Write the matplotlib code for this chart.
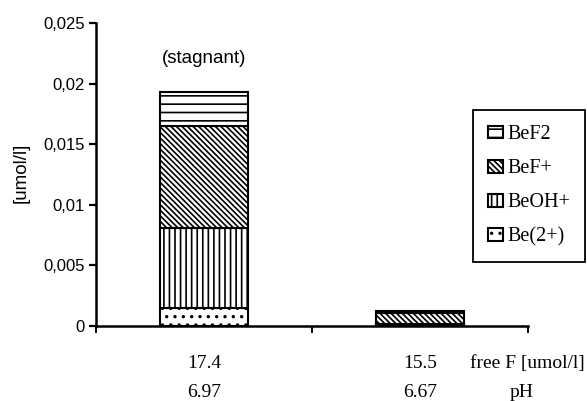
import matplotlib
matplotlib.use("Agg")
import matplotlib.pyplot as plt
import numpy as np

# data (umol/l)
species = ["Be(2+)", "BeOH+", "BeF+", "BeF2"]
be2 = [0.0015, 0.00005]
beoh = [0.0066, 0.0001]
bef = [0.0084, 0.0009]
bef2 = [0.0028, 0.0002]
free_f = ["17.4", "15.5"]
ph = ["6.97", "6.67"]
hatches = ["..", "|||", "\\\\\\\\\\\\", "--"]

plt.rcParams["hatch.linewidth"] = 1.2
serif = "Liberation Serif"
sans = "Liberation Sans"

fig = plt.figure(figsize=(5.87, 4.01), dpi=100)
ax = fig.add_axes([96/587, 1-326/401, 432/587, 303/401])

x = np.array([0.5, 1.5])
bottom = np.zeros(2)
handles = []
for name, vals, h in zip(species, [be2, beoh, bef, bef2], hatches):
    b = ax.bar(x, vals, width=0.41, bottom=bottom, color="white",
               edgecolor="black", linewidth=1.5, hatch=h, label=name)
    handles.append(b)
    bottom = bottom + np.array(vals)

ax.set_xlim(0, 2)
ax.set_ylim(0, 0.025)
ax.spines["top"].set_visible(False)
ax.spines["right"].set_visible(False)
ax.spines["left"].set_linewidth(1.8)
ax.spines["bottom"].set_linewidth(1.8)

yt = [0, 0.005, 0.01, 0.015, 0.02, 0.025]
ax.set_yticks(yt)
ax.set_yticklabels(["0", "0,005", "0,01", "0,015", "0,02", "0,025"],
                   fontfamily=sans, fontsize=12)
ax.tick_params(axis="y", length=5, width=1.6, pad=3)
ax.set_xticks([0, 1, 2])
ax.set_xticklabels([])
ax.tick_params(axis="x", length=5, width=1.4, direction="out")

ax.set_ylabel("[umol/l]", fontfamily=sans, fontsize=13.5)
ax.yaxis.set_label_coords(-0.153, 0.505)

ax.text(0.5, 0.0221, "(stagnant)", ha="center", va="center",
        fontfamily=sans, fontsize=13.5)

for xi, f, p in zip(x, free_f, ph):
    ax.text(xi, -0.00347, f, ha="center", va="baseline", fontfamily=serif, fontsize=14)
    ax.text(xi, -0.00586, p, ha="center", va="baseline", fontfamily=serif, fontsize=14)
ax.text(1.995, -0.00347, "free F [umol/l]", ha="center", va="baseline",
        fontfamily=serif, fontsize=14, clip_on=False)
ax.text(1.97, -0.00586, "pH", ha="center", va="baseline",
        fontfamily=serif, fontsize=14, clip_on=False)

leg = fig.legend(handles[::-1], species[::-1], loc="upper right",
                 bbox_to_anchor=(585/587, 1-110/401), frameon=True, fancybox=False,
                 framealpha=1, edgecolor="black", prop={"family": serif, "size": 14.5},
                 handlelength=0.75, handleheight=0.6, handletextpad=0.2,
                 labelspacing=0.75, borderpad=0.75, borderaxespad=0)
leg.get_frame().set_linewidth(1.3)

fig.savefig("out.png", dpi=100)
